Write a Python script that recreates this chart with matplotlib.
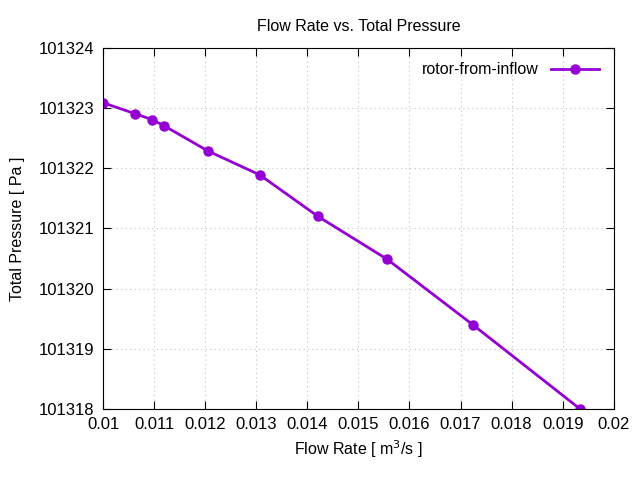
import matplotlib.pyplot as plt

flow_rate = [0.01, 0.01062, 0.01096, 0.01119, 0.01205, 0.01307, 0.01421, 0.01556, 0.01724, 0.01934]
total_pressure = [101323.09, 101322.91, 101322.81, 101322.71, 101322.29, 101321.89,
                  101321.2, 101320.49, 101319.4, 101318.0]
x_ticks = [0.01, 0.011, 0.012, 0.013, 0.014, 0.015, 0.016, 0.017, 0.018, 0.019, 0.02]
y_ticks = [101318, 101319, 101320, 101321, 101322, 101323, 101324]

plt.rcParams['font.family'] = ['Liberation Sans', 'DejaVu Sans']
fig = plt.figure(figsize=(6.4, 4.8), dpi=100)
ax = fig.add_axes([0.161, 0.148, 0.798, 0.752])

ax.plot(flow_rate, total_pressure, color='#9400D3', linewidth=2, marker='o',
        markersize=6.5, label='rotor-from-inflow')

ax.set_xlim(0.01, 0.02)
ax.set_ylim(101318, 101324)
ax.set_xticks(x_ticks)
ax.set_xticklabels([f'{t:g}' for t in x_ticks])
ax.set_yticks(y_ticks)
ax.set_yticklabels([str(t) for t in y_ticks])
ax.tick_params(direction='in', top=True, right=True, length=6, labelsize=12, pad=6)
ax.grid(True, color='#c0c0c0', linestyle=(0, (1, 3)), linewidth=0.8)

ax.set_title('Flow Rate vs. Total Pressure', fontsize=11.5, pad=12)
ax.set_xlabel('Flow Rate [ m$^3$/s ]', fontsize=11.5)
ax.set_ylabel('Total Pressure [ Pa ]', fontsize=11.5, labelpad=10)
ax.legend(loc='upper right', frameon=False, markerfirst=False, fontsize=11.5,
          handlelength=3)

fig.savefig('out.png')
